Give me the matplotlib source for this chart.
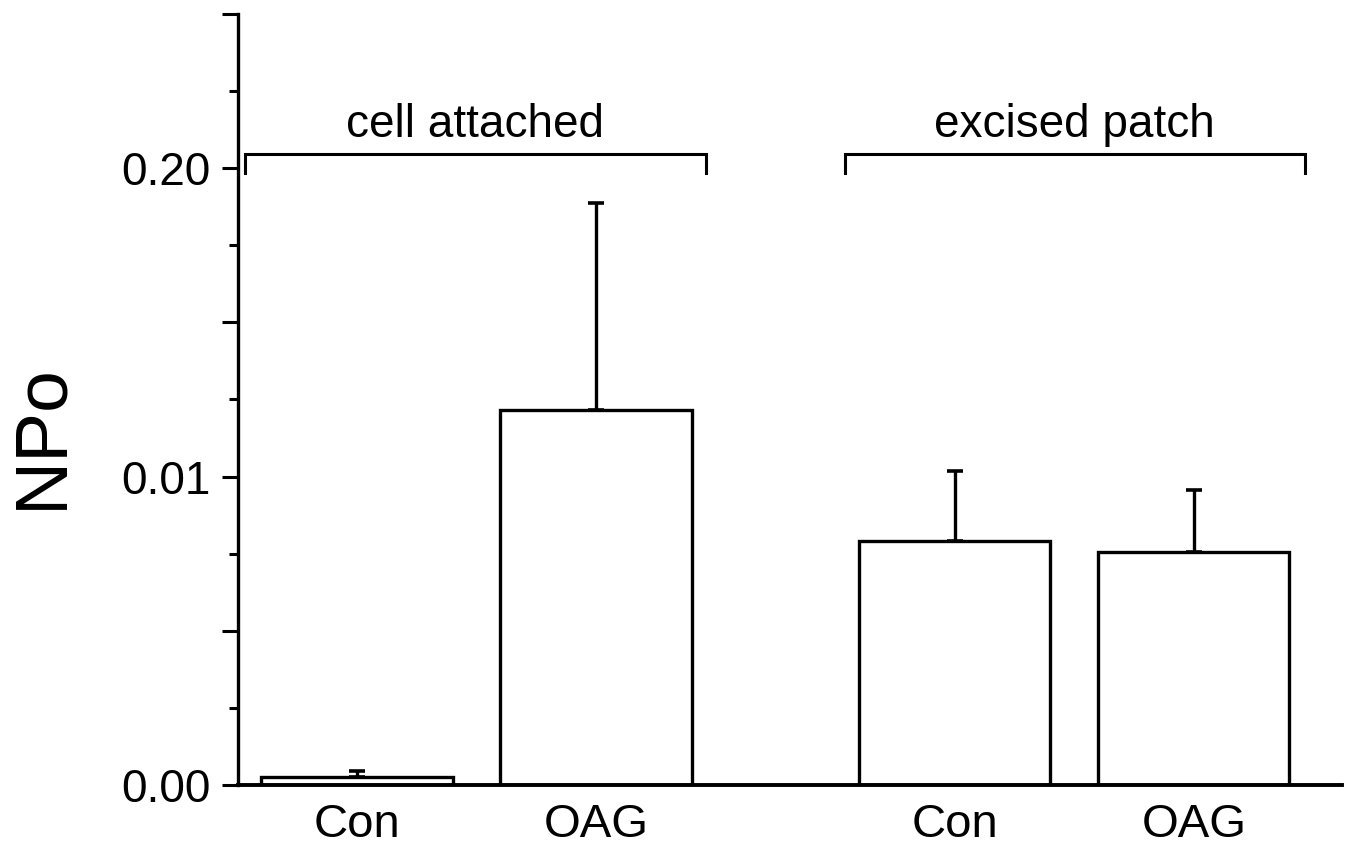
import numpy as np
import matplotlib
matplotlib.use("Agg")
import matplotlib.pyplot as plt
from matplotlib.scale import FuncScale
from matplotlib.ticker import FixedLocator, FixedFormatter

plt.rcParams['font.family'] = ['Liberation Sans', 'DejaVu Sans']

# ---- data ----
categories = ["Con", "OAG", "Con", "OAG"]
positions = [0.0, 1.0, 2.5, 3.5]
means = [0.00026, 0.0510, 0.00792, 0.00756]
errors = [0.00019, 0.1274, 0.0055, 0.0020]
groups = ["cell attached", "excised patch"]
group_spans = [(-0.47, 1.46), (2.04, 3.965)]
ytick_vals = [0.0, 0.01, 0.20]
ytick_labels = ["0.00", "0.01", "0.20"]

# broken (piecewise linear) y scale: 0-0.01 and 0.01-0.20 each get equal height
brk_vals = np.array([-1.0, 0.0, 0.01, 0.20, 1.0])
brk_u = np.array([-100.0, 0.0, 1.0, 2.0, 2.0 + 0.8 / 0.19])

def fwd(v):
    return np.interp(np.asarray(v, dtype=float), brk_vals, brk_u)

def inv(u):
    return np.interp(np.asarray(u, dtype=float), brk_u, brk_vals)

fig = plt.figure(figsize=(13.47, 8.46), dpi=100)
ax = fig.add_axes([238/1347, 61/846, 1104/1347, 771/846])
ax.set_yscale(FuncScale(ax.yaxis, (fwd, inv)))

ax.bar(positions, means, width=0.8, color="white", edgecolor="black",
       linewidth=2.4, zorder=2)
ax.errorbar(positions, means, yerr=[np.zeros(len(errors)), errors], fmt="none",
            ecolor="black", elinewidth=2.4, capsize=5.5, capthick=2.6, zorder=3)

ax.set_xlim(-0.498, 4.12)
ax.set_ylim(0, float(inv(2.5)))

major_u = [0, 0.5, 1, 1.5, 2, 2.5]
minor_u = [0.25, 0.75, 1.25, 1.75, 2.25]
ax.yaxis.set_major_locator(FixedLocator(list(inv(major_u))))
ax.yaxis.set_minor_locator(FixedLocator(list(inv(minor_u))))
lab_map = {round(float(fwd(v)), 3): l for v, l in zip(ytick_vals, ytick_labels)}
ax.yaxis.set_major_formatter(FixedFormatter([lab_map.get(round(u, 3), "") for u in major_u]))
ax.tick_params(axis="y", which="major", direction="out", length=11.5, width=2.2,
               labelsize=33, pad=8)
ax.tick_params(axis="y", which="minor", direction="out", length=6.5, width=2.2)

ax.set_xticks(positions)
ax.set_xticklabels(categories)
ax.tick_params(axis="x", length=0, labelsize=34, pad=13)

for s in ["top", "right"]:
    ax.spines[s].set_visible(False)
ax.spines["left"].set_linewidth(2.4)
ax.spines["bottom"].set_linewidth(2.8)

ax.set_ylabel("NPo", fontsize=54, va="center")
ax.yaxis.set_label_coords(-0.1775, 0.452)

trans = ax.get_xaxis_transform()
for name, (x0, x1) in zip(groups, group_spans):
    ax.plot([x0, x0, x1, x1], [0.794, 0.818, 0.818, 0.794], color="black",
            lw=2.2, transform=trans, clip_on=False, solid_joinstyle="miter")
    ax.text((x0 + x1) / 2, 0.840, name, transform=trans, ha="center",
            va="baseline", fontsize=33)

fig.savefig("out.png", dpi=100)
